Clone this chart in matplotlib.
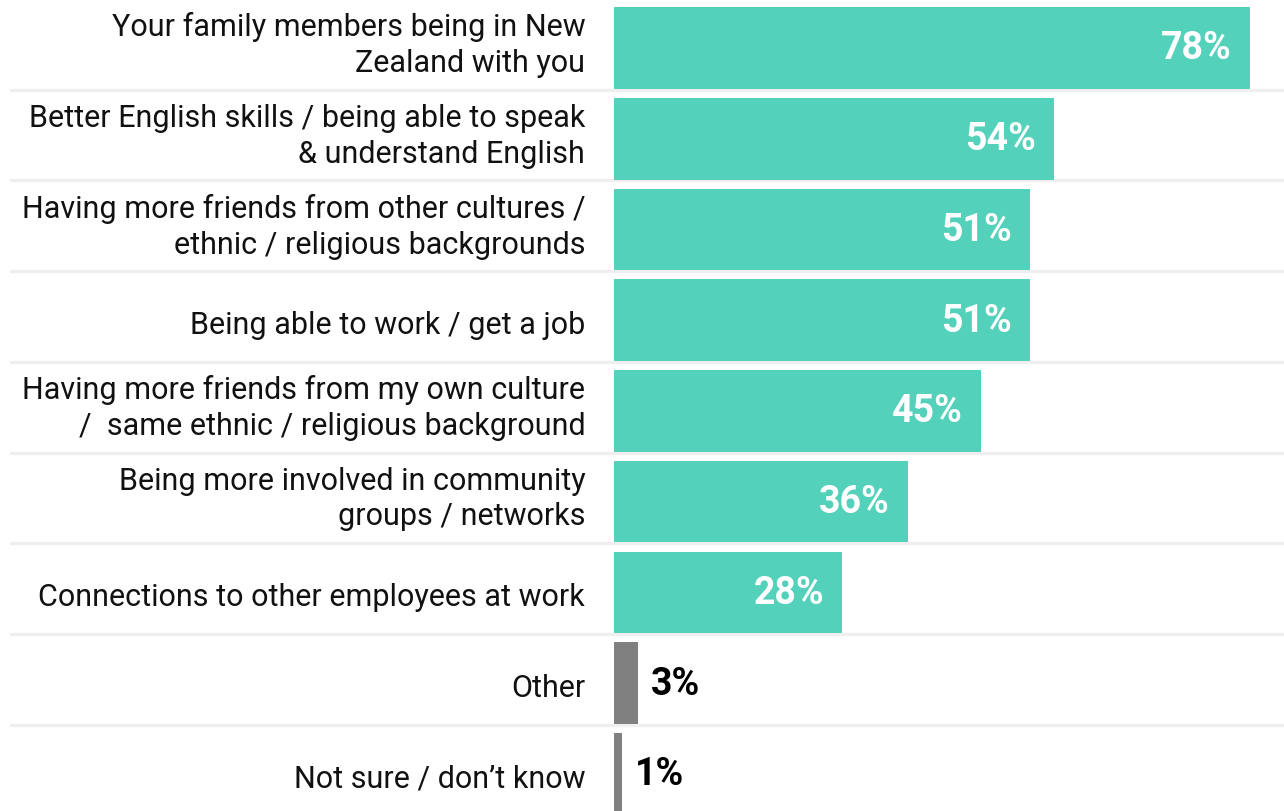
import matplotlib.pyplot as plt

categories = [
    "Your family members being in New\nZealand with you",
    "Better English skills / being able to speak\n& understand English",
    "Having more friends from other cultures /\nethnic / religious backgrounds",
    "Being able to work / get a job",
    "Having more friends from my own culture\n/  same ethnic / religious background",
    "Being more involved in community\ngroups / networks",
    "Connections to other employees at work",
    "Other",
    "Not sure / don\u2019t know",
]
values = [78, 54, 51, 51, 45, 36, 28, 3, 1]
highlight = [True, True, True, True, True, True, True, False, False]

TEAL = "#53d1ba"
GREY = "#808080"
LINE = "#efefef"

plt.rcParams["font.family"] = ["Roboto", "DejaVu Sans"]

fig = plt.figure(figsize=(12.84, 8.12), dpi=100)
ax = fig.add_axes([614 / 1284, 0, 670 / 1284, 1])

ypos = list(range(len(values)))
colors = [TEAL if h else GREY for h in highlight]
ax.barh(ypos, values, height=0.9, color=colors, zorder=2)

ax.set_xlim(0, 670 / 8.155)
ax.set_ylim(8.41, -0.54)
ax.axis("off")

# light separators between rows, running under the labels too
for y in ypos[:-1]:
    ax.plot([-0.9, 1.0], [y + 0.46, y + 0.46], color=LINE, lw=2.4,
            transform=ax.get_yaxis_transform(), clip_on=False, zorder=1)

for y, (cat, v, h) in enumerate(zip(categories, values, highlight)):
    dy = -0.04 if "\n" in cat else 0.05
    ax.text(-0.043, y + dy, cat, transform=ax.get_yaxis_transform(),
            ha="right", va="center", fontsize=22, color="#111111",
            linespacing=1.3)
    if h:
        ax.annotate(f"{v}%", (v, y), xytext=(-13, 0), textcoords="offset points",
                    ha="right", va="center", fontsize=27, fontweight="bold",
                    color="white", zorder=3)
    else:
        ax.annotate(f"{v}%", (v, y), xytext=(9, 0), textcoords="offset points",
                    ha="left", va="center", fontsize=27, fontweight="bold",
                    color="black", zorder=3)

fig.savefig("out.png", dpi=100, facecolor="white")
